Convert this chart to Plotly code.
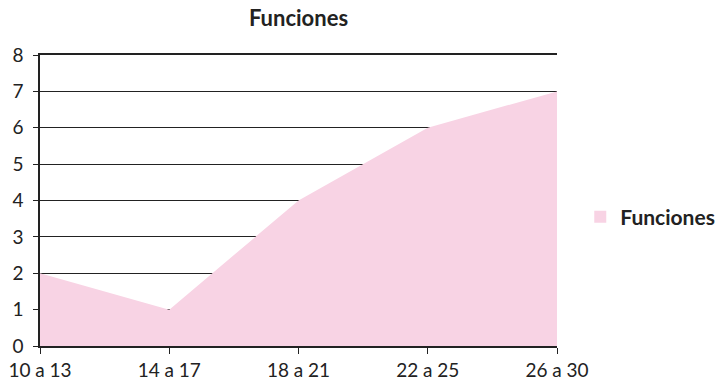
import plotly.graph_objects as go

categories = ["10 a 13", "14 a 17", "18 a 21", "22 a 25", "26 a 30"]
funciones = [2, 1, 4, 6, 7]
series_name = "Funciones"
y_ticks = [0, 1, 2, 3, 4, 5, 6, 7, 8]

pos = list(range(len(categories)))
fill_color = "#F8D3E4"
ink = "#222222"

fig = go.Figure()
fig.add_trace(go.Scatter(
    x=pos, y=funciones, name=series_name,
    mode="none", fill="tozeroy", fillcolor=fill_color,
    showlegend=False, hoverinfo="x+y",
))
# legend entry drawn as a square swatch
fig.add_trace(go.Scatter(
    x=[None], y=[None], name="<b>" + series_name + "</b>", mode="markers",
    marker=dict(symbol="square", size=14, color=fill_color),
    showlegend=True,
))

tick_font = dict(family="Lato", size=19, color=ink)

fig.update_layout(
    width=722, height=381,
    margin=dict(l=40, r=165, t=55, b=35, autoexpand=False),
    paper_bgcolor="white", plot_bgcolor="white",
    title=dict(text="<b>" + series_name + "</b>", x=298.5 / 722, xanchor="center",
               y=1 - 18 / 381, yanchor="middle",
               font=dict(family="Lato", size=22, color=ink)),
    legend=dict(x=1.045, xanchor="left", y=0.443, yanchor="middle",
                font=dict(family="Lato", size=21, color=ink),
                itemsizing="constant", bgcolor="rgba(0,0,0,0)",
                tracegroupgap=0),
    xaxis=dict(
        range=[0, len(categories) - 1], tickvals=pos, ticktext=categories,
        showgrid=False, zeroline=False, showline=True, mirror=True,
        linecolor=ink, linewidth=1.5, ticks="outside", ticklen=6,
        tickcolor=ink, tickfont=tick_font, fixedrange=True, automargin=False,
    ),
    yaxis=dict(
        range=[0, 8], tickvals=y_ticks, showgrid=True, gridcolor=ink,
        gridwidth=1.2, zeroline=False, showline=True, linecolor=ink,
        linewidth=1.5, ticks="outside", ticklen=5, tickcolor=ink,
        ticklabelstandoff=6,
        tickfont=tick_font, fixedrange=True, automargin=False,
    ),
)

fig.write_html("out.html")
